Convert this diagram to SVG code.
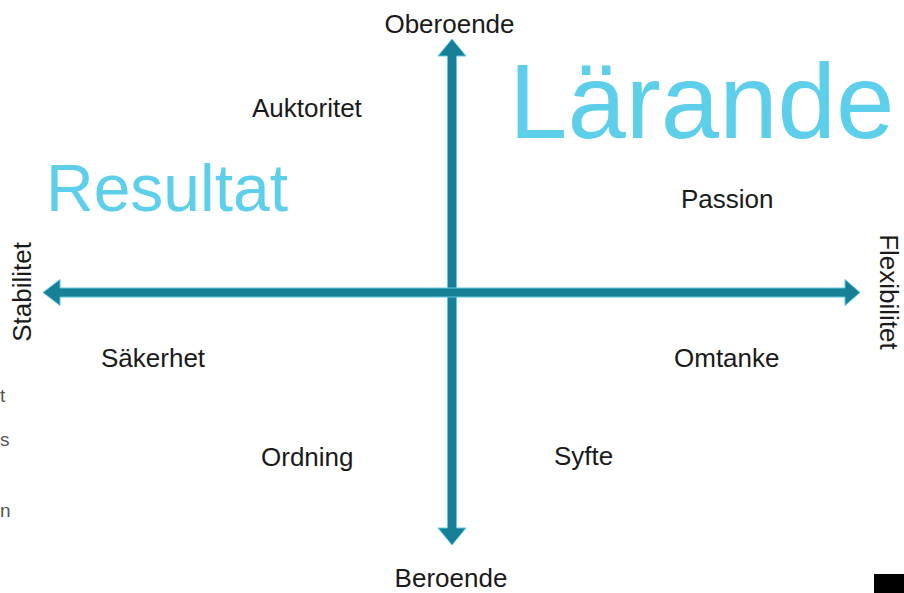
<svg xmlns="http://www.w3.org/2000/svg" width="904" height="593" viewBox="0 0 904 593">
<style>
.lbl{font-family:"Liberation Sans",Arial,sans-serif;font-size:26px;fill:#1a1a1a}
.big{font-family:"Liberation Sans",Arial,sans-serif;fill:#5dcfea}
.edge{font-family:"Liberation Sans",Arial,sans-serif;font-size:19px;fill:#555}
.arrow{fill:#177f96;stroke:#5cc8e2;stroke-width:1;stroke-linejoin:miter}
</style>
<rect width="904" height="593" fill="#ffffff"/>
<g id="connectors">
<polygon class="arrow" points="452,39 466,56 456.5,56 456.5,528 466,528 452,545 438,528 447.5,528 447.5,56 438,56"/>
<polygon class="arrow" points="43,292.5 60,279.5 60,288 845,288 845,279.5 860,292.5 845,305.5 845,297 60,297 60,305.5"/>
</g>
<g id="axis-top"><text class="lbl" x="449.5" y="33" text-anchor="middle">Oberoende</text></g>
<g id="axis-bottom"><text class="lbl" x="451" y="587" text-anchor="middle">Beroende</text></g>
<g id="axis-left"><text class="lbl" transform="translate(31,292) rotate(-90)" text-anchor="middle">Stabilitet</text></g>
<g id="axis-right"><text class="lbl" transform="translate(880,292) rotate(90)" text-anchor="middle" font-size="25">Flexibilitet</text></g>
<g id="larande"><text class="big" x="509" y="138" font-size="105">Lärande</text></g>
<g id="resultat"><text class="big" x="46" y="211" font-size="66">Resultat</text></g>
<g id="auktoritet"><text class="lbl" x="252" y="117">Auktoritet</text></g>
<g id="passion"><text class="lbl" x="681" y="208">Passion</text></g>
<g id="sakerhet"><text class="lbl" x="101" y="367">Säkerhet</text></g>
<g id="omtanke"><text class="lbl" x="674" y="367">Omtanke</text></g>
<g id="ordning"><text class="lbl" x="261" y="466">Ordning</text></g>
<g id="syfte"><text class="lbl" x="554" y="465">Syfte</text></g>
<g id="edge-fragments">
<text class="edge" x="0" y="402">t</text>
<text class="edge" x="0" y="446">s</text>
<text class="edge" x="0" y="517">n</text>
</g>
<rect x="874" y="574" width="30" height="19" fill="#000000"/>
</svg>
